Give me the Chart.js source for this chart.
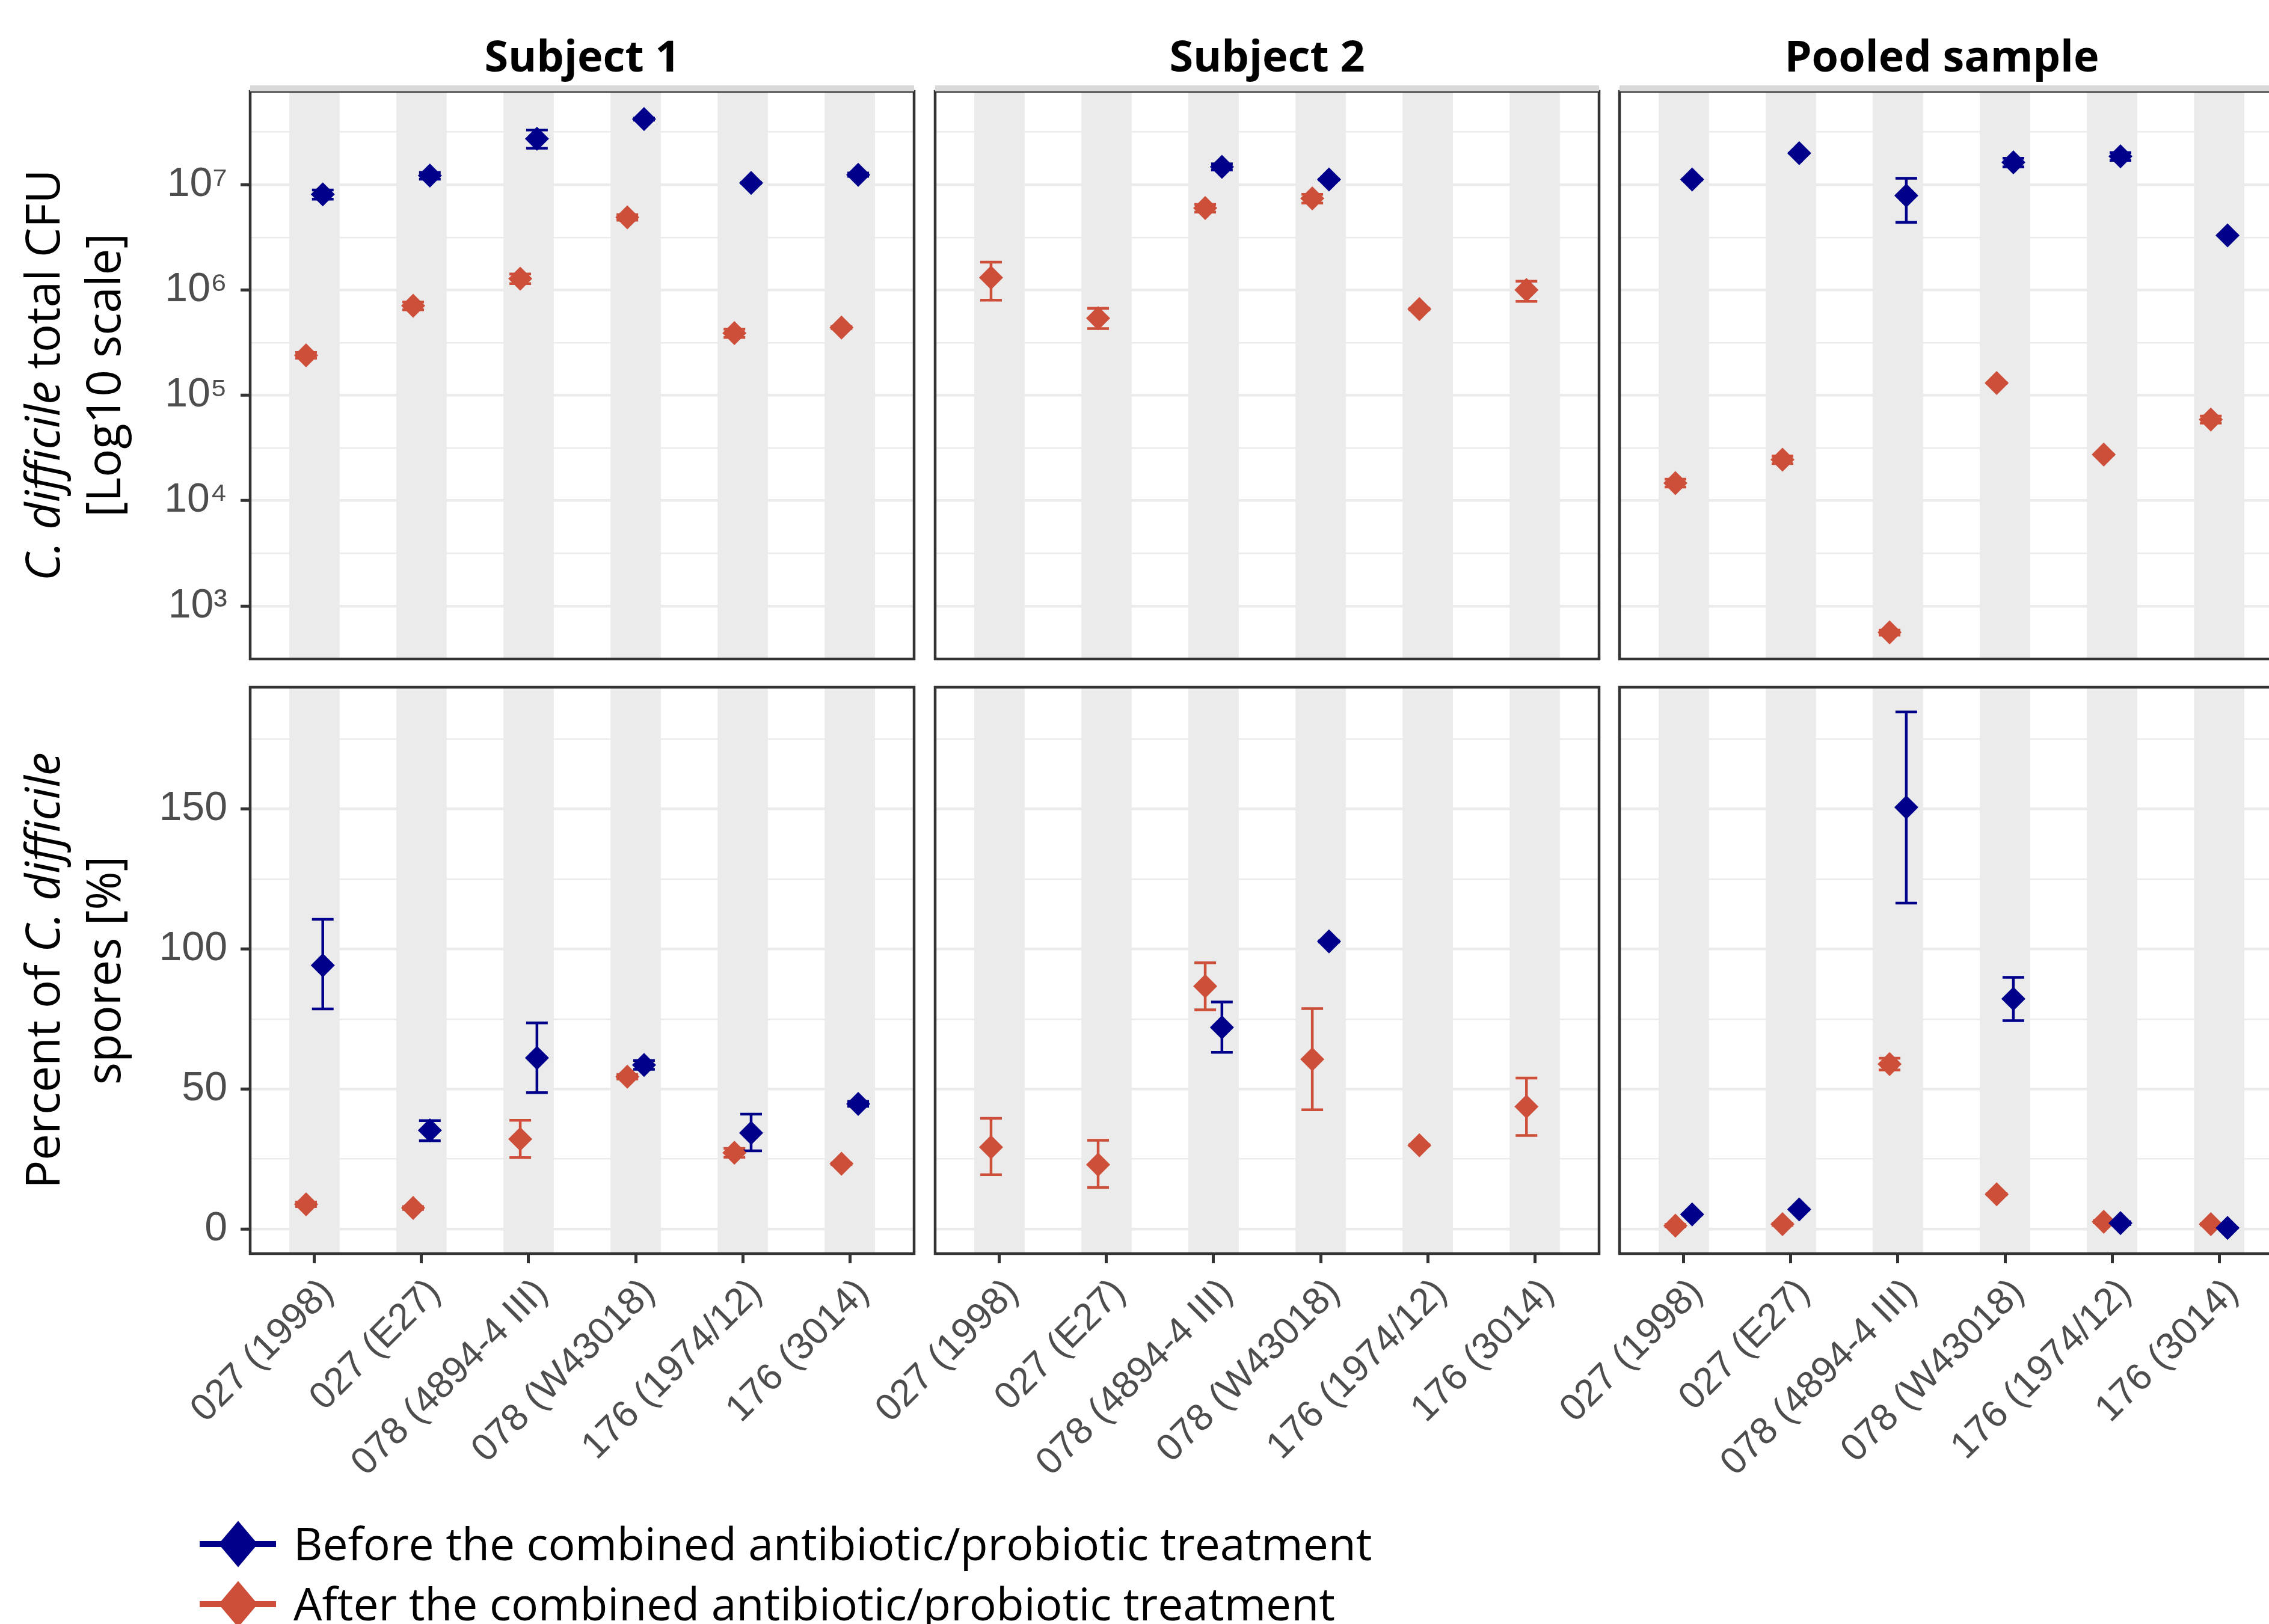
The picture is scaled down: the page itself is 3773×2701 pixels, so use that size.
<!DOCTYPE html>
<html>
<head>
<meta charset="utf-8">
<script src="https://cdn.jsdelivr.net/npm/chart.js@4.4.1/dist/chart.umd.min.js"></script>
<style>
  body { margin: 0; background: #fff; width: 3773px; height: 2701px; overflow: hidden; position: relative; font-family: "Open Sans", sans-serif; }
  canvas { position: absolute; }
  .strip { position: absolute; top: 44px; width: 1104px; text-align: center; font-weight: 700; font-size: 72px; line-height: 94px; color: #000; }
  .stripbar { position: absolute; top: 142px; width: 1104px; height: 10px; background: #D9D9D9; }
  .ytitle { position: absolute; width: 1000px; height: 202px; text-align: center; font-size: 78px; line-height: 101px; color: #000; transform: rotate(-90deg); white-space: nowrap; }
  .key { position: absolute; left: 332px; width: 127px; height: 10px; }
  .key i { position: absolute; left: 41px; top: -18px; width: 46px; height: 46px; transform: scaleY(1.18) rotate(45deg); }
  .keytext { position: absolute; left: 488px; font-size: 75px; line-height: 96px; color: #000; white-space: nowrap; }
</style>
</head>
<body>
<script>
// categories and facets
const strains = ['027 (1998)', '027 (E27)', '078 (4894-4 III)', '078 (W43018)', '176 (1974/12)', '176 (3014)'];
const facets = ['Subject 1', 'Subject 2', 'Pooled sample'];
const seriesNames = ['Before the combined antibiotic/probiotic treatment', 'After the combined antibiotic/probiotic treatment'];
const seriesColors = ['#00008B', '#CD4F39'];

// tick labels
const cfuTicks = [1e3, 1e4, 1e5, 1e6, 1e7];
const cfuTickLabels = ['10³', '10⁴', '10⁵', '10⁶', '10⁷'];
const sporeTicks = [0, 50, 100, 150];
const sporeTickLabels = ['0', '50', '100', '150'];

// total CFU (log scale), before / after, with error bar limits
const cfuBeforeS1 = [8.1e6, 1.22e7, 2.73e7, 4.2e7, 1.04e7, 1.24e7];
const cfuBeforeS1Lo = [7.3e6, 1.13e7, 2.22e7, 4.1e7, 1.03e7, 1.2e7];
const cfuBeforeS1Hi = [8.9e6, 1.31e7, 3.3e7, 4.3e7, 1.05e7, 1.29e7];
const cfuAfterS1 = [2.4e5, 7.1e5, 1.28e6, 4.9e6, 3.9e5, 4.4e5];
const cfuAfterS1Lo = [2.25e5, 6.5e5, 1.15e6, 4.6e6, 3.55e5, 4.3e5];
const cfuAfterS1Hi = [2.55e5, 7.7e5, 1.42e6, 5.2e6, 4.25e5, 4.5e5];

const cfuBeforeS2 = [null, null, 1.48e7, 1.12e7, null, null];
const cfuBeforeS2Lo = [null, null, 1.38e7, 1.11e7, null, null];
const cfuBeforeS2Hi = [null, null, 1.58e7, 1.13e7, null, null];
const cfuAfterS2 = [1.31e6, 5.4e5, 6.0e6, 7.4e6, 6.6e5, 1.0e6];
const cfuAfterS2Lo = [8.0e5, 4.3e5, 5.5e6, 6.7e6, 6.5e5, 7.8e5];
const cfuAfterS2Hi = [1.84e6, 6.7e5, 6.5e6, 8.1e6, 6.7e5, 1.21e6];

const cfuBeforePool = [1.12e7, 1.99e7, 7.9e6, 1.63e7, 1.86e7, 3.3e6];
const cfuBeforePoolLo = [1.11e7, 1.98e7, 4.4e6, 1.48e7, 1.7e7, 3.28e6];
const cfuBeforePoolHi = [1.13e7, 2.0e7, 1.15e7, 1.78e7, 2.02e7, 3.32e6];
const cfuAfterPool = [1.47e4, 2.45e4, 561, 1.31e5, 2.74e4, 5.9e4];
const cfuAfterPoolLo = [1.35e4, 2.25e4, 530, 1.3e5, 2.72e4, 5.45e4];
const cfuAfterPoolHi = [1.6e4, 2.65e4, 590, 1.32e5, 2.76e4, 6.35e4];

// percent spores
const sporeBeforeS1 = [94.2, 35.2, 61.1, 58.6, 34.3, 44.7];
const sporeBeforeS1Lo = [78.6, 31.5, 48.7, 57.0, 27.9, 43.8];
const sporeBeforeS1Hi = [110.6, 38.7, 73.6, 60.2, 41.0, 45.6];
const sporeAfterS1 = [8.8, 7.5, 32.1, 54.4, 27.2, 23.3];
const sporeAfterS1Lo = [8.0, 7.0, 25.5, 53.6, 25.6, 23.0];
const sporeAfterS1Hi = [9.6, 8.0, 38.8, 55.2, 28.8, 23.6];

const sporeBeforeS2 = [null, null, 72.0, 102.7, null, null];
const sporeBeforeS2Lo = [null, null, 63.1, 102.5, null, null];
const sporeBeforeS2Hi = [null, null, 81.1, 102.9, null, null];
const sporeAfterS2 = [29.2, 23.0, 86.7, 60.6, 29.9, 43.7];
const sporeAfterS2Lo = [19.4, 14.8, 78.3, 42.6, 29.7, 33.4];
const sporeAfterS2Hi = [39.5, 31.7, 95.1, 78.7, 30.1, 53.9];

const sporeBeforePool = [5.2, 7.0, 150.6, 82.2, 2.1, 0.4];
const sporeBeforePoolLo = [5.1, 6.9, 116.4, 74.4, 1.6, 0.3];
const sporeBeforePoolHi = [5.3, 7.1, 184.7, 89.9, 2.6, 0.5];
const sporeAfterPool = [1.2, 1.7, 58.9, 12.4, 2.6, 1.7];
const sporeAfterPoolLo = [0.8, 1.3, 56.8, 12.2, 2.2, 1.4];
const sporeAfterPoolHi = [1.6, 2.1, 61.0, 12.6, 3.0, 2.0];

// layout
const panelLeft = [416, 1555, 2693];
const panelW = 1104;
const rowTop = [152, 1143];
const rowH = [944, 942];
const YW = 260, PAD = 80, XH = 440;
const dodge = 0.078, bandHalf = 0.235, cap = 18;

const panelDecor = {
  id: 'panelDecor',
  beforeDatasetsDraw(chart) {
    const { ctx, chartArea: a, scales: { x, y } } = chart;
    ctx.save();
    ctx.beginPath();
    ctx.rect(a.left, a.top, a.width, a.height);
    ctx.clip();
    ctx.fillStyle = '#EBEBEB';
    strains.forEach((s, i) => {
      const l = x.getPixelForValue(i + 1 - bandHalf);
      const r = x.getPixelForValue(i + 1 + bandHalf);
      ctx.fillRect(l, a.top, r - l, a.height);
    });
    ctx.lineWidth = 4.5;
    chart.data.datasets.slice().reverse().forEach(ds => {
      ctx.strokeStyle = ds.backgroundColor;
      ds.data.forEach(p => {
        if (p.lo == null) return;
        const px = x.getPixelForValue(p.x);
        const t = y.getPixelForValue(p.hi);
        const b = y.getPixelForValue(p.lo);
        ctx.beginPath();
        ctx.moveTo(px, t); ctx.lineTo(px, b);
        ctx.moveTo(px - cap, t); ctx.lineTo(px + cap, t);
        ctx.moveTo(px - cap, b); ctx.lineTo(px + cap, b);
        ctx.stroke();
      });
    });
    ctx.restore();
  },
  afterDraw(chart) {
    const { ctx, chartArea: a } = chart;
    ctx.save();
    ctx.strokeStyle = '#333333';
    ctx.lineWidth = 4.5;
    ctx.strokeRect(a.left, a.top, a.width, a.height);
    ctx.restore();
  }
};

function points(vals, lo, hi, off) {
  const out = [];
  vals.forEach((v, i) => {
    if (v == null) return;
    out.push({ x: i + 1 + off, y: v, lo: lo[i], hi: hi[i] });
  });
  return out;
}

function makePanel(col, row, before, bLo, bHi, after, aLo, aHi) {
  const c = document.createElement('canvas');
  const w = YW + panelW + PAD;
  const h = PAD + rowH[row] + (row === 0 ? PAD : XH);
  c.width = w; c.height = h;
  c.style.left = (panelLeft[col] - YW) + 'px';
  c.style.top = (rowTop[row] - PAD) + 'px';
  c.style.width = w + 'px'; c.style.height = h + 'px';
  document.body.appendChild(c);

  const isLog = row === 0;
  const major = isLog ? cfuTicks : sporeTicks;
  const labels = isLog ? cfuTickLabels : sporeTickLabels;
  let gridVals;
  if (isLog) {
    gridVals = [];
    for (let e = 2.5; e <= 7.5; e += 0.5) gridVals.push(Math.pow(10, e));
  } else {
    gridVals = [0, 25, 50, 75, 100, 125, 150, 175];
  }
  const labelFor = v => {
    const k = major.findIndex(m => Math.abs(m - v) / Math.max(1, Math.abs(m)) < 1e-6);
    return k >= 0 ? labels[k] : '';
  };
  const isMajor = v => labelFor(v) !== '';

  new Chart(c, {
    type: 'scatter',
    data: {
      datasets: [
        { label: seriesNames[0], data: points(before, bLo, bHi, dodge), backgroundColor: seriesColors[0] },
        { label: seriesNames[1], data: points(after, aLo, aHi, -dodge), backgroundColor: seriesColors[1] }
      ]
    },
    options: {
      responsive: false,
      animation: false,
      events: [],
      layout: { autoPadding: false, padding: { top: PAD, right: PAD, left: 0, bottom: 0 } },
      elements: { point: { pointStyle: 'rectRot', radius: 20, borderWidth: 0 } },
      plugins: { legend: { display: false }, tooltip: { enabled: false } },
      scales: {
        x: {
          type: 'linear',
          min: 0.4, max: 6.6,
          bounds: 'data',
          afterBuildTicks: s => { s.ticks = strains.map((n, i) => ({ value: i + 1 })); },
          afterFit: s => { s.height = row === 0 ? PAD : XH; },
          ticks: {
            display: row === 1,
            autoSkip: false,
            maxRotation: 45, minRotation: 45,
            padding: 12,
            labelOffset: 22,
            color: '#4D4D4D',
            font: { family: 'Liberation Sans', size: 63 },
            callback: v => strains[v - 1]
          },
          grid: { display: row === 1, drawOnChartArea: false, drawTicks: true, tickLength: 16, tickWidth: 5, tickColor: '#333333' },
          border: { display: false }
        },
        y: {
          type: isLog ? 'logarithmic' : 'linear',
          min: isLog ? Math.pow(10, 2.497) : -8.8,
          max: isLog ? Math.pow(10, 7.886) : 193.5,
          bounds: 'data',
          afterBuildTicks: s => { s.ticks = gridVals.map(v => ({ value: v })); },
          afterFit: s => { s.width = YW; },
          ticks: {
            display: col === 0,
            autoSkip: false,
            padding: 22,
            color: '#4D4D4D',
            font: { family: 'Liberation Sans', size: 68 },
            callback: v => labelFor(v)
          },
          grid: {
            color: '#EBEBEB',
            lineWidth: ctx => (ctx.tick && isMajor(ctx.tick.value)) ? 4.5 : 2.5,
            drawTicks: col === 0,
            tickLength: 16,
            tickWidth: 5,
            tickColor: ctx => (ctx.tick && isMajor(ctx.tick.value)) ? '#333333' : 'rgba(0,0,0,0)'
          },
          border: { display: false }
        }
      }
    },
    plugins: [panelDecor]
  });
}

const cfuSets = [
  [cfuBeforeS1, cfuBeforeS1Lo, cfuBeforeS1Hi, cfuAfterS1, cfuAfterS1Lo, cfuAfterS1Hi],
  [cfuBeforeS2, cfuBeforeS2Lo, cfuBeforeS2Hi, cfuAfterS2, cfuAfterS2Lo, cfuAfterS2Hi],
  [cfuBeforePool, cfuBeforePoolLo, cfuBeforePoolHi, cfuAfterPool, cfuAfterPoolLo, cfuAfterPoolHi]
];
const sporeSets = [
  [sporeBeforeS1, sporeBeforeS1Lo, sporeBeforeS1Hi, sporeAfterS1, sporeAfterS1Lo, sporeAfterS1Hi],
  [sporeBeforeS2, sporeBeforeS2Lo, sporeBeforeS2Hi, sporeAfterS2, sporeAfterS2Lo, sporeAfterS2Hi],
  [sporeBeforePool, sporeBeforePoolLo, sporeBeforePoolHi, sporeAfterPool, sporeAfterPoolLo, sporeAfterPoolHi]
];

facets.forEach((f, col) => {
  makePanel(col, 0, ...cfuSets[col]);
  makePanel(col, 1, ...sporeSets[col]);

  const bar = document.createElement('div');
  bar.className = 'stripbar';
  bar.style.left = panelLeft[col] + 'px';
  document.body.appendChild(bar);

  const t = document.createElement('div');
  t.className = 'strip';
  t.style.left = (panelLeft[col] - (col === 2 ? 16 : 0)) + 'px';
  t.textContent = f;
  document.body.appendChild(t);
});

// y axis titles
function yTitle(html, cy) {
  const d = document.createElement('div');
  d.className = 'ytitle';
  d.innerHTML = html;
  d.style.left = (120 - 500) + 'px';
  d.style.top = (cy - 101) + 'px';
  document.body.appendChild(d);
}
yTitle('<i>C. difficile</i> total CFU<br>[Log10 scale]', (rowTop[0] + rowTop[0] + rowH[0]) / 2);
yTitle('Percent of <i>C. difficile</i><br>spores [%]', (rowTop[1] + rowTop[1] + rowH[1]) / 2);

// legend
const keyY = [2568, 2668];
seriesNames.forEach((name, i) => {
  const k = document.createElement('div');
  k.className = 'key';
  k.style.top = (keyY[i] - 5) + 'px';
  k.style.background = seriesColors[i];
  const d = document.createElement('i');
  d.style.background = seriesColors[i];
  k.appendChild(d);
  document.body.appendChild(k);

  const t = document.createElement('div');
  t.className = 'keytext';
  t.style.top = (keyY[i] - 50) + 'px';
  t.textContent = name;
  document.body.appendChild(t);
});
</script>
</body>
</html>
